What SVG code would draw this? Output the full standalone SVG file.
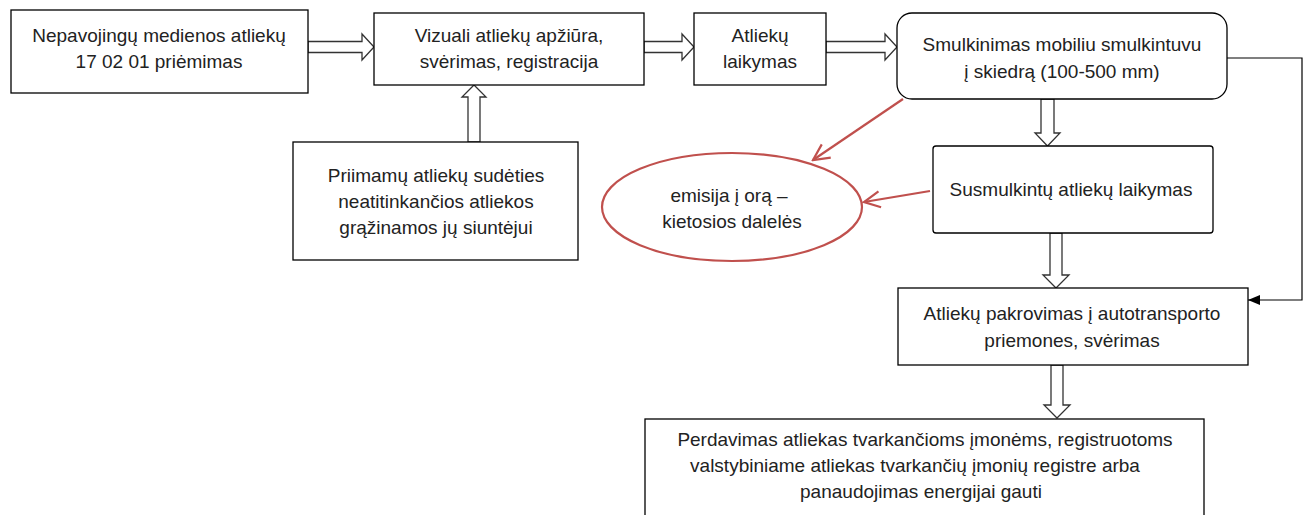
<svg xmlns="http://www.w3.org/2000/svg" width="1312" height="515" viewBox="0 0 1312 515">
<defs>
<style>
.box{fill:#fff;stroke:#000;stroke-width:1.3}
.t{font-family:"Liberation Sans",Arial,sans-serif;font-size:19px;fill:#222;text-anchor:middle}
.hollow{fill:#fff;stroke:#333;stroke-width:1.3;stroke-linejoin:miter}
.red{fill:none;stroke:#c0504d;stroke-width:2.2}
.thin{fill:none;stroke:#000;stroke-width:1.2}
</style>
<marker id="vred" viewBox="0 0 20 20" refX="18" refY="10" markerWidth="20" markerHeight="20" markerUnits="userSpaceOnUse" orient="auto">
<path d="M2,2 L18,10 L2,18" fill="none" stroke="#c0504d" stroke-width="2.2"/>
</marker>
<marker id="tri" viewBox="0 0 12 10" refX="12" refY="5" markerWidth="12" markerHeight="10" markerUnits="userSpaceOnUse" orient="auto">
<path d="M0,0 L12,5 L0,10 Z" fill="#000"/>
</marker>
</defs>
<rect width="1312" height="515" fill="#fff"/>

<g id="connectors">
<polygon class="hollow" points="308,41.5 362,41.5 362,34 374,47 362,60 362,52.5 308,52.5"/>
<polygon class="hollow" points="644,41.5 682,41.5 682,34 694,47 682,60 682,52.5 644,52.5"/>
<polygon class="hollow" points="826,41.5 885,41.5 885,34 897,47 885,60 885,52.5 826,52.5"/>
<polygon class="hollow" points="468,142 468,97 462,97 474,85 486,97 480,97 480,142"/>
<polygon class="hollow" points="1041,99 1041,133 1035,133 1047.5,146 1060,133 1054,133 1054,99"/>
<polygon class="hollow" points="1050,233 1050,275 1043,275 1056,288 1069,275 1062,275 1062,233"/>
<polygon class="hollow" points="1051,365 1051,405 1044,405 1057,418 1070,405 1063,405 1063,365"/>
<polyline class="thin" points="1227,58 1302,58 1302,300 1248,300" marker-end="url(#tri)"/>
<line class="red" x1="903" y1="99" x2="813" y2="160" marker-end="url(#vred)"/>
<line class="red" x1="930" y1="191" x2="864" y2="202" marker-end="url(#vred)"/>
</g>

<g id="n1">
<rect class="box" x="11" y="10" width="297" height="83"/>
<text class="t" x="159" y="42">Nepavojingų medienos atliekų</text>
<text class="t" x="159" y="68">17 02 01 priėmimas</text>
</g>
<g id="n2">
<rect class="box" x="374" y="13" width="270" height="72"/>
<text class="t" x="509" y="42">Vizuali atliekų apžiūra,</text>
<text class="t" x="509" y="68">svėrimas, registracija</text>
</g>
<g id="n3">
<rect class="box" x="694" y="13" width="132" height="72"/>
<text class="t" x="760" y="42">Atliekų</text>
<text class="t" x="760" y="68">laikymas</text>
</g>
<g id="n4">
<rect class="box" x="897" y="13" width="330" height="86" rx="15" ry="15"/>
<text class="t" x="1062" y="51">Smulkinimas mobiliu smulkintuvu</text>
<text class="t" x="1062" y="78">į skiedrą (100-500 mm)</text>
</g>
<g id="n5">
<rect class="box" x="293" y="142" width="285" height="118"/>
<text class="t" x="436" y="182">Priimamų atliekų sudėties</text>
<text class="t" x="436" y="208">neatitinkančios atliekos</text>
<text class="t" x="436" y="234">grąžinamos jų siuntėjui</text>
</g>
<g id="n6">
<ellipse cx="732" cy="207" rx="130" ry="54" fill="#fff" stroke="#c0504d" stroke-width="2.2"/>
<text class="t" x="729" y="202">emisija į orą –</text>
<text class="t" x="732" y="228">kietosios dalelės</text>
</g>
<g id="n7">
<rect class="box" x="933" y="146" width="280" height="87" rx="3" ry="3"/>
<text class="t" x="1071" y="196">Susmulkintų atliekų laikymas</text>
</g>
<g id="n8">
<rect class="box" x="898" y="288" width="350" height="77"/>
<text class="t" x="1072" y="320">Atliekų pakrovimas į autotransporto</text>
<text class="t" x="1072" y="347">priemones, svėrimas</text>
</g>
<g id="n9">
<rect class="box" x="645" y="419" width="559" height="110"/>
<text class="t" x="925" y="446">Perdavimas atliekas tvarkančioms įmonėms, registruotoms</text>
<text class="t" x="915" y="472">valstybiniame atliekas tvarkančių įmonių registre arba</text>
<text class="t" x="921" y="498">panaudojimas energijai gauti</text>
</g>
</svg>
